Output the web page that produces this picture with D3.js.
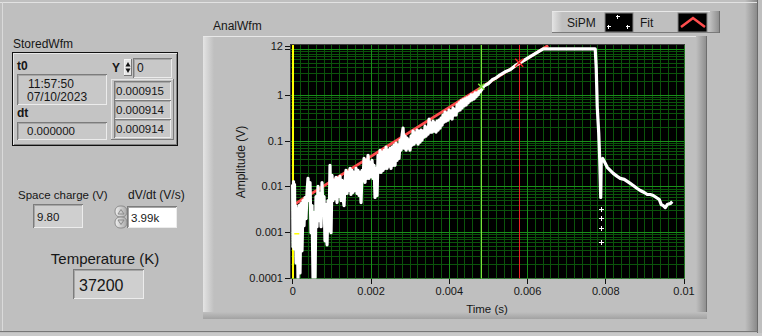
<!DOCTYPE html>
<html>
<head>
<meta charset="utf-8">
<script src="https://cdn.jsdelivr.net/npm/d3@7"></script>
<style>
  body { margin: 0; background: #bfbfbf; }
  svg text { font-family: "Liberation Sans", Arial, sans-serif; fill: #161616; }
</style>
</head>
<body>
<svg id="panel" width="762" height="336"></svg>
<script>
// ---- chart data (time in s, amplitude in V) ----
const sipmTime = [
  // noisy start
  0.000008, 0.000018, 0.000031, 0.000043, 0.000056, 0.000069, 0.000082, 0.000095, 0.00012, 0.000146,
  0.000171, 0.000197, 0.000223, 0.000248, 0.000274, 0.000299, 0.000325, 0.00035, 0.000376, 0.000402,
  0.000427, 0.000453, 0.000478, 0.000504, 0.00053, 0.000555, 0.000581, 0.000606, 0.000632, 0.000657,
  0.000683, 0.000709, 0.000734, 0.00076, 0.000785, 0.000811, 0.000836, 0.000862, 0.000888, 0.000913,
  0.000939,
  // noisy rise
  0.000964, 0.000990, 0.001015, 0.001041, 0.001066, 0.001092, 0.001118, 0.001143, 0.001169, 0.001194,
  0.001220, 0.001245, 0.001271, 0.001297, 0.001322, 0.001348, 0.001373, 0.001399, 0.001425, 0.001450,
  0.001476, 0.001501, 0.001527, 0.001552, 0.001578, 0.001604, 0.001629, 0.001655, 0.001680, 0.001706,
  0.001731, 0.001757, 0.001783, 0.001808, 0.001834, 0.001859, 0.001885, 0.001911, 0.001936, 0.001962,
  0.001987, 0.002013, 0.002038, 0.002064, 0.002090, 0.002115, 0.002141, 0.002166, 0.002192, 0.002217,
  0.002243, 0.002269, 0.002294, 0.002320, 0.002345, 0.002371, 0.002397, 0.002422, 0.002448, 0.002473,
  0.002499, 0.002524, 0.002550, 0.002576, 0.002601, 0.002627, 0.002652, 0.002678, 0.002703, 0.002729,
  0.002755, 0.002780, 0.002806, 0.002831, 0.002857, 0.002882, 0.002908, 0.002934, 0.002959, 0.002985,
  0.003010, 0.003036, 0.003062, 0.003087, 0.003113, 0.003138, 0.003164, 0.003189, 0.003215, 0.003241,
  0.003266, 0.003292, 0.003317, 0.003343, 0.003368, 0.003394, 0.003420, 0.003445, 0.003471, 0.003496,
  0.003522, 0.003548, 0.003573, 0.003599, 0.003624, 0.003650, 0.003675, 0.003701, 0.003727, 0.003752,
  0.003778, 0.003803, 0.003829, 0.003854, 0.003880, 0.003906, 0.003931, 0.003957, 0.003982, 0.004008,
  0.004034, 0.004059, 0.004085, 0.004110, 0.004136, 0.004161, 0.004187, 0.004213, 0.004238, 0.004264,
  0.004289, 0.004315, 0.004340, 0.004366, 0.004392, 0.004417, 0.004443, 0.004468, 0.004494, 0.004520,
  0.004545, 0.004571, 0.004596, 0.004622, 0.004647, 0.004673, 0.004699, 0.004724, 0.004750, 0.004775,
  0.004801,
  // smooth rise, saturation, fall and tail
  0.004904, 0.005006, 0.005109, 0.005211, 0.005313, 0.005441, 0.005569, 0.005697, 0.005825, 0.005953,
  0.00608, 0.006208, 0.006336, 0.006413, 0.007743, 0.007769, 0.007795, 0.007833, 0.007859, 0.007884,
  0.007897, 0.007935, 0.007999, 0.00805, 0.008127, 0.008204, 0.008306, 0.008383, 0.008485, 0.008562,
  0.008639, 0.008715, 0.008818, 0.008895, 0.008997, 0.009074, 0.00915, 0.009227, 0.009304, 0.009381,
  0.009432, 0.009483, 0.009534, 0.009585, 0.009662, 0.009713
];
const sipmVolt = [
  0.0111, 0.00048, 0.0128, 0.000434, 0.0111, 0.00065, 0.00382, 0.000214, 0.00328, 0.0001,
  0.00382, 0.000129, 0.00423, 0.000392, 0.00492, 0.00139, 0.00573, 0.00198, 0.00738, 0.015,
  0.00492, 0.0122, 0.000975, 0.00382, 0.0001, 0.00268, 0.0001, 0.00603, 0.00132, 0.01,
  0.00179, 0.00702, 0.00132, 0.0122, 0.00243, 0.00603, 0.00065, 0.00402, 0.000531, 0.00492,
  0.00108,
  0.029, 0.000975, 0.0175, 0.00492, 0.01355, 0.00545, 0.0158, 0.00445, 0.015, 0.00603,
  0.0166, 0.00492, 0.01355, 0.00573, 0.00382, 0.0122, 0.0225, 0.00702, 0.0203, 0.00817,
  0.0249, 0.00667, 0.0225, 0.00738, 0.0203, 0.00817, 0.0249, 0.00702, 0.0225, 0.00634,
  0.0203, 0.00445, 0.0225, 0.01355, 0.041, 0.0122, 0.0373, 0.015, 0.048, 0.015,
  0.0337, 0.0166, 0.0373, 0.015, 0.029, 0.00573, 0.0249, 0.00634, 0.048, 0.0203,
  0.0618, 0.0203, 0.0559, 0.0225, 0.0618, 0.0249, 0.072, 0.0249, 0.0618, 0.0276,
  0.0684, 0.0249, 0.072, 0.029, 0.0796, 0.029, 0.088, 0.0373, 0.0796, 0.041,
  0.1026, 0.0618, 0.132, 0.188, 0.0684, 0.126, 0.0618, 0.1135, 0.0684, 0.1026,
  0.0618, 0.126, 0.0796, 0.162, 0.0838, 0.146, 0.0927, 0.17, 0.0838, 0.162,
  0.0927, 0.17, 0.1026, 0.162, 0.119, 0.208, 0.126, 0.188, 0.139, 0.297,
  0.154, 0.242, 0.154, 0.268, 0.162, 0.242, 0.154, 0.268, 0.17, 0.282,
  0.188, 0.312, 0.219, 0.363, 0.255, 0.423, 0.268, 0.402, 0.282, 0.468,
  0.312, 0.445, 0.297, 0.518, 0.363, 0.468, 0.363, 0.603, 0.445, 0.667,
  0.468, 0.738, 0.518, 0.777, 0.573, 0.817, 0.603, 0.859, 0.667, 0.904,
  0.738, 1.0, 0.777, 1.0, 0.817, 1.106, 0.904, 1.106, 1.0, 1.224,
  1.164,
  1.58, 1.75, 2.14, 2.36, 2.75, 3.2, 3.54, 4.34, 5.05, 5.88,
  6.84, 7.96, 9.27, 10.1, 10.1, 3.92, 0.545, 0.146, 0.0373, 0.00573,
  0.0373, 0.041, 0.032, 0.0262, 0.0225, 0.0193, 0.0166, 0.015, 0.01426, 0.01288,
  0.01164, 0.0105, 0.00904, 0.00817, 0.00738, 0.00667, 0.00667, 0.00634, 0.00573, 0.00518,
  0.00402, 0.00382, 0.00345, 0.00402, 0.00423, 0.00468
];
// isolated SiPM samples below the fall edge
const dotTime = [0.0079, 0.0079, 0.0079, 0.0079];
const dotVolt = [0.00328, 0.00208, 0.00126, 0.00062];
// exponential fit, straight on the log scale
const fitTime = [0, 0.00654];
const fitVolt = [0.00382, 12];
// cursors
const cursorTime = [0, 0.00483, 0.0058];
const cursorVolt = [0.00093, 1.5, 5.05];
const cursorColor = ["#ffff00", "#7ee03a", "#ee2222"];

const xTicks = [0, 0.002, 0.004, 0.006, 0.008, 0.01];
const yTicks = [0.0001, 0.001, 0.01, 0.1, 1, 10, 12];

// front panel values
const t0Text = ["11:57:50", "07/10/2023"];
const dtText = "0.000000";
const yIndex = "0";
const yValues = ["0.000915", "0.000914", "0.000914"];
const spaceCharge = "9.80";
const dvdt = "3.99k";
const temperature = "37200";

if (sipmTime.length !== sipmVolt.length) {
    throw new Error("sipm length mismatch " + sipmTime.length + " vs " + sipmVolt.length);
}

const bg = "#bfbfbf";
const svg = d3.select("#panel");
const defs = svg.append("defs");

function grad(id, x2, y2, stops) {
    const g = defs.append("linearGradient").attr("id", id)
        .attr("x1", 0).attr("y1", 0).attr("x2", x2).attr("y2", y2);
    stops.forEach(s => g.append("stop").attr("offset", s[0]).attr("stop-color", s[1]));
}
grad("gLeft", 1, 0, [[0, "#e4e4e4"], [1, bg]]);
grad("gRight", 1, 0, [[0, bg], [1, "#8a8a8a"]]);
grad("gBot", 0, 1, [[0, bg], [1, "#a2a2a2"]]);
grad("gBtn", 1, 0, [[0, "#f0f0f0"], [1, "#a8a8a8"]]);

function rect(x, y, w, h, fill) {
    return svg.append("rect").attr("x", x).attr("y", y).attr("width", w).attr("height", h)
        .attr("fill", fill);
}
function line(d, color, w) {
    return svg.append("path").attr("d", d).attr("fill", "none")
        .attr("stroke", color).attr("stroke-width", w || 1).attr("shape-rendering", "crispEdges");
}
function text(x, y, s, size, opts) {
    const t = svg.append("text").attr("x", x).attr("y", y).attr("font-size", size).text(s);
    if (opts && opts.bold) t.attr("font-weight", "bold");
    if (opts && opts.anchor) t.attr("text-anchor", opts.anchor);
    return t;
}

// raised frame with shaded sides
function raised(x, y, w, h, side) {
    rect(x, y, w, h, bg);
    rect(x, y, side, h, "url(#gLeft)");
    rect(x + w - side, y, side, h, "url(#gRight)");
    line(`M${x},${y + 0.5}H${x + w - side}`, "#e8e8e8");
    line(`M${x},${y + h - 0.5}H${x + w}`, "#7a7a7a");
    line(`M${x + w - 0.5},${y}V${y + h}`, "#6e6e6e");
}

// sunken indicator box
function sunken(x, y, w, h, fill) {
    rect(x, y, w, h, fill);
    line(`M${x + 0.5},${y + h}V${y + 0.5}H${x + w}`, "#7c7c7c");
    line(`M${x + 1.5},${y + h - 1}V${y + 1.5}H${x + w - 1}`, "#a6a6a6");
    line(`M${x + 1},${y + h - 0.5}H${x + w - 0.5}V${y + 1}`, "#ececec");
}

// ---- panel background ----
rect(0, 0, 762, 336, bg);
rect(745, 0, 12, 332, "url(#gRight)");
line("M0,2.5H757", "#e2e2e2");
line("M2.5,2V332", "#dadada");
line("M757.5,0V333", "#6a6a6a");
line("M0,331.5H758", "#777");
rect(0, 333, 762, 3, "#c9c9c9");

// ---- StoredWfm cluster ----
text(13, 48, "StoredWfm", 12);
rect(12, 52, 166, 94, "#111");
rect(13, 53, 164, 92, "#c4c4c4");
line("M13.5,145V53.5H177", "#e8e8e8");
line("M14,144.5H176.5V54", "#808080");
text(17, 70, "t0", 12, { bold: true });
sunken(17, 74, 90, 31, "#c8c8c8");
text(28, 88, t0Text[0], 12);
text(27, 101, t0Text[1], 12);
text(17, 117, "dt", 12, { bold: true });
sunken(17, 122, 90, 18, "#c8c8c8");
text(27, 135, dtText, 11.5);

text(112, 72, "Y", 12, { bold: true });
rect(124, 59, 8, 17, "#e6e6e6");
line("M124.5,76V59.5H132", "#f4f4f4");
line("M124,75.5H131.5V59", "#777");
svg.append("path").attr("d", "M125.5,66.5L128,62L130.5,66.5Z").attr("fill", "#111");
svg.append("path").attr("d", "M125.5,68.5L128,73L130.5,68.5Z").attr("fill", "#111");
sunken(133, 58, 39, 20, "#c8c8c8");
text(137, 72, yIndex, 12);

line("M111.5,140V79.5H174", "#e6e6e6");
line("M111,139.5H173.5V79", "#7c7c7c");
yValues.forEach((v, i) => {
    sunken(114, 81 + i * 19, 57, 19, "#c8c8c8");
    text(116, 95 + i * 19, v, 11.5);
});

// ---- scalar indicators ----
text(18, 199, "Space charge (V)", 11.5);
sunken(33, 204, 50, 24, "#cfcfcf");
text(37, 221, spaceCharge, 11.5);

text(128, 199, "dV/dt (V/s)", 12);
svg.append("rect").attr("x", 115).attr("y", 206).attr("width", 12).attr("height", 11)
    .attr("rx", 5).attr("fill", "url(#gBtn)").attr("stroke", "#8c8c8c");
svg.append("rect").attr("x", 115).attr("y", 217).attr("width", 12).attr("height", 11)
    .attr("rx", 5).attr("fill", "url(#gBtn)").attr("stroke", "#8c8c8c");
svg.append("path").attr("d", "M118,214L121,209.5L124,214Z").attr("fill", "none").attr("stroke", "#8a8a8a");
svg.append("path").attr("d", "M118,220L121,224.5L124,220Z").attr("fill", "none").attr("stroke", "#8a8a8a");
sunken(127, 206, 50, 22, "#ffffff");
text(131, 222, dvdt, 11.5);

text(105, 264, "Temperature (K)", 15, { anchor: "middle" });
sunken(73, 269, 71, 30, "#cfcfcf");
text(79, 291, temperature, 16);

// ---- graph frame and legend ----
text(213, 30, "AnalWfm", 12);
raised(203, 36, 504, 283, 11);
rect(203, 312, 504, 7, "url(#gBot)");

raised(552, 11, 168, 22, 10);
text(567, 27, "SiPM", 12);
rect(605, 13, 28, 19, "#000").attr("stroke", "#858585");
[[617, 16], [608, 26], [627, 26]].forEach(p => {
    line(`M${p[0] - 1.5},${p[1] + 0.5}H${p[0] + 2.5}M${p[0] + 0.5},${p[1] - 1.5}V${p[1] + 2.5}`, "#fff");
});
text(640, 27, "Fit", 12);
rect(678, 13, 29, 19, "#000").attr("stroke", "#858585");
svg.append("path").attr("d", "M681,27L693,18L705,27").attr("fill", "none")
    .attr("stroke", "#ff4d4d").attr("stroke-width", 2.6);

// ---- plot ----
const x = d3.scaleLinear().domain([0, 0.01]).range([292.3, 683.5]);
const y = d3.scaleLog().domain([0.0001, 12]).range([278, 45.5]);
const plot = { x0: 291, x1: 684.5, y0: 45, y1: 278.5 };

rect(plot.x0, plot.y0, plot.x1 - plot.x0, plot.y1 - plot.y0, "#000");
line(`M${plot.x0 - 0.5},${plot.y1}V${plot.y0 - 0.5}H${plot.x1}`, "#3c3c3c");

defs.append("clipPath").attr("id", "plotClip").append("rect")
    .attr("x", plot.x0).attr("y", plot.y0)
    .attr("width", plot.x1 - plot.x0).attr("height", plot.y1 - plot.y0);
const g = svg.append("g").attr("clip-path", "url(#plotClip)");

// grid: minor then major
const xMinor = d3.range(0, 51).map(i => i * 0.0002);
const yMajor = [0.0001, 0.001, 0.01, 0.1, 1, 10];
const yMinor = [];
yMajor.forEach(d => d3.range(2, 10).forEach(k => { if (k * d < 12) yMinor.push(k * d); }));
const minorColor = "#0b540b", majorColor = "#199019";

g.selectAll(".vmin").data(xMinor).join("line")
    .attr("x1", d => Math.round(x(d)) + 0.5).attr("x2", d => Math.round(x(d)) + 0.5)
    .attr("y1", plot.y0).attr("y2", plot.y1)
    .attr("stroke", minorColor).attr("shape-rendering", "crispEdges");
g.selectAll(".hmin").data(yMinor).join("line")
    .attr("y1", d => Math.round(y(d)) + 0.5).attr("y2", d => Math.round(y(d)) + 0.5)
    .attr("x1", plot.x0).attr("x2", plot.x1)
    .attr("stroke", minorColor).attr("shape-rendering", "crispEdges");
g.selectAll(".vmaj").data(xTicks).join("line")
    .attr("x1", d => Math.round(x(d)) + 0.5).attr("x2", d => Math.round(x(d)) + 0.5)
    .attr("y1", plot.y0).attr("y2", plot.y1)
    .attr("stroke", majorColor).attr("shape-rendering", "crispEdges");
g.selectAll(".hmaj").data(yMajor).join("line")
    .attr("y1", d => Math.round(y(d)) + 0.5).attr("y2", d => Math.round(y(d)) + 0.5)
    .attr("x1", plot.x0).attr("x2", plot.x1)
    .attr("stroke", majorColor).attr("shape-rendering", "crispEdges");

// cursor lines
g.selectAll(".cur").data(cursorTime).join("line")
    .attr("x1", d => Math.round(x(d)) + 0.5).attr("x2", d => Math.round(x(d)) + 0.5)
    .attr("y1", plot.y0).attr("y2", plot.y1)
    .attr("stroke", (d, i) => cursorColor[i]).attr("stroke-width", (d, i) => i === 0 ? 2 : 1)
    .attr("shape-rendering", "crispEdges");

// fit
const fitPts = fitTime.map((t, i) => [t, fitVolt[i]]);
g.append("path").datum(fitPts)
    .attr("d", d3.line().x(d => x(d[0])).y(d => y(d[1])))
    .attr("fill", "none").attr("stroke", "#ff4d4d").attr("stroke-width", 2.8);

// SiPM waveform
const sipmPts = sipmTime.map((t, i) => [t, sipmVolt[i]]);
g.append("path").datum(sipmPts)
    .attr("d", d3.line().x(d => x(d[0])).y(d => y(d[1])))
    .attr("fill", "none").attr("stroke", "#fff").attr("stroke-width", 3.2)
    .attr("stroke-linejoin", "round");
g.selectAll(".dot").data(dotTime).join("path")
    .attr("d", (d, i) => {
        const cx = Math.round(x(d)), cy = Math.round(y(dotVolt[i]));
        return `M${cx - 2},${cy + 0.5}H${cx + 3}M${cx + 0.5},${cy - 2}V${cy + 3}`;
    })
    .attr("stroke", "#fff").attr("shape-rendering", "crispEdges");

// cursor points
g.selectAll(".cpt").data(cursorTime).join("path")
    .attr("d", (d, i) => {
        const cx = x(d) + (i === 0 ? 2 : 0), cy = y(cursorVolt[i]);
        if (i === 0) return `M${cx},${cy}H${cx + 5}`;
        const s = i === 2 ? 4 : 3;
        return `M${cx - s},${cy - s}L${cx + s},${cy + s}M${cx - s},${cy + s}L${cx + s},${cy - s}`;
    })
    .attr("fill", "none").attr("stroke", (d, i) => cursorColor[i]).attr("stroke-width", 1.5);

// axes
const xAxis = d3.axisBottom(x).tickValues(xTicks).tickSize(5).tickPadding(3)
    .tickFormat(d => d === 0 ? "0" : String(+d.toFixed(3)));
const xg = svg.append("g").attr("transform", `translate(0,${plot.y1 + 0.5})`).call(xAxis);
const yAxis = d3.axisLeft(y).tickValues(yTicks).tickSize(5).tickPadding(2)
    .tickFormat(d => d === 10 ? "" : String(d));
const yg = svg.append("g").attr("transform", `translate(${plot.x0 - 1},0)`).call(yAxis);
[xg, yg].forEach(a => {
    a.select(".domain").remove();
    a.selectAll(".tick line").attr("stroke", "#111").attr("shape-rendering", "crispEdges");
    a.selectAll(".tick text").attr("font-size", 11).attr("font-family", null).attr("fill", "#161616");
});
xg.selectAll(".tick text").attr("dy", "0.71em");

text(487, 313, "Time (s)", 11.5, { anchor: "middle" });
text(0, 0, "Amplitude (V)", 12, { anchor: "middle" })
    .attr("transform", "translate(245,162) rotate(-90)");
</script>
</body>
</html>
